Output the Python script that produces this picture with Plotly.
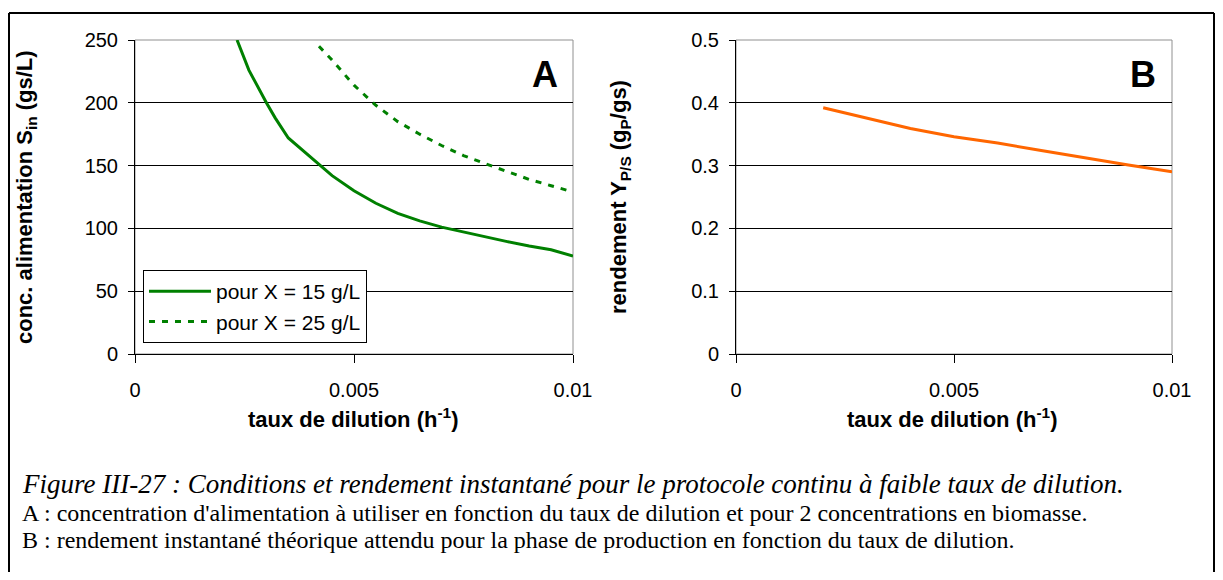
import plotly.graph_objects as go

# panel A : feed concentration vs dilution rate
d_x15 = [0.00233, 0.0026, 0.0030, 0.0032, 0.0035, 0.0040, 0.0045, 0.0050, 0.0055,
         0.0060, 0.0065, 0.0070, 0.0075, 0.0080, 0.0085, 0.0090, 0.0095, 0.0100]
s_x15 = [250, 226, 200, 188, 172, 157, 142, 130, 120, 112, 106, 101, 97, 93, 89.5, 86, 83, 78]

d_x25 = [0.0042, 0.0045, 0.0050, 0.0055, 0.0060, 0.0065, 0.0070, 0.0075, 0.0080,
         0.0085, 0.0090, 0.0095, 0.0100]
s_x25 = [245, 234, 214, 198, 185, 175, 166, 158, 151.5, 145, 139, 134, 129]

# panel B : yield vs dilution rate
d_yield = [0.0020, 0.0030, 0.0040, 0.0050, 0.0060, 0.0070, 0.0080, 0.0090, 0.0100]
y_yield = [0.392, 0.376, 0.359, 0.346, 0.336, 0.324, 0.312, 0.301, 0.290]

x_ticks = [0, 0.005, 0.01]
x_ticktext = ["0", "0.005", "0.01"]

# page has an 8px body margin, keep the figure inside the window
W, H = 1207, 564
OFF = 8
GREEN = "#008000"
ORANGE = "#FF6600"
SANS = "Liberation Sans, Arial"
AX_FONT = dict(family=SANS, size=20, color="black")
TITLE_FONT = dict(family=SANS, size=22, color="black")

def px(x):
    return (x - OFF) / W

def py(y):
    return 1 - (y - OFF) / H

fig = go.Figure()
fig.add_trace(go.Scatter(x=d_x15, y=s_x15, mode="lines", name="pour X = 15 g/L",
                         line=dict(color=GREEN, width=3), xaxis="x", yaxis="y"))
fig.add_trace(go.Scatter(x=d_x25, y=s_x25, mode="lines", name="pour X = 25 g/L",
                         line=dict(color=GREEN, width=3, dash="6px,7px"), xaxis="x", yaxis="y"))
fig.add_trace(go.Scatter(x=d_yield, y=y_yield, mode="lines", showlegend=False,
                         line=dict(color=ORANGE, width=3), xaxis="x2", yaxis="y2"))

xcommon = dict(range=[0, 0.01], tickvals=x_ticks, ticktext=x_ticktext, showgrid=False,
               showline=True, linecolor="black", linewidth=1, ticks="outside", ticklen=8,
               tickcolor="black", tickfont=AX_FONT, ticklabelstandoff=10, zeroline=False,
               automargin=False)
ycommon = dict(showgrid=True, gridcolor="black", gridwidth=1, showline=True, linecolor="black",
               linewidth=1, ticks="outside", ticklen=6, tickcolor="black", tickfont=AX_FONT,
               ticklabelstandoff=6, zeroline=False, automargin=False)

dom_y = [py(354), py(40)]
fig.update_layout(
    width=W, height=H, margin=dict(l=0, r=0, t=0, b=0),
    template="none", paper_bgcolor="white", plot_bgcolor="white",
    xaxis=dict(domain=[px(135), px(573)], anchor="y", **xcommon),
    yaxis=dict(domain=dom_y, anchor="x", range=[0, 250], tickvals=[0, 50, 100, 150, 200, 250], **ycommon),
    xaxis2=dict(domain=[px(736), px(1172)], anchor="y2", **xcommon),
    yaxis2=dict(domain=dom_y, anchor="x2", range=[0, 0.5], tickvals=[0, 0.1, 0.2, 0.3, 0.4, 0.5],
                ticktext=["0", "0.1", "0.2", "0.3", "0.4", "0.5"], **ycommon),
    legend=dict(x=px(143), y=py(270), xanchor="left", yanchor="top", bgcolor="white",
                bordercolor="black", borderwidth=1,
                font=dict(family=SANS, size=21, color="black"),
                itemwidth=62),
    showlegend=True,
)

shapes = []
# grey plot-area frames (top and right edges)
for xr, yr in (("x", "y"), ("x2", "y2")):
    shapes.append(dict(type="rect", xref=xr + " domain", yref=yr + " domain", x0=0, x1=1, y0=0, y1=1,
                       line=dict(color="#909090", width=1), layer="below"))
# outer figure frame (left, top, right)
frame = dict(xref="paper", yref="paper", line=dict(color="black", width=2))
shapes.append(dict(type="line", x0=px(9), x1=px(1214), y0=py(13), y1=py(13), **frame))
shapes.append(dict(type="line", x0=px(9), x1=px(9), y0=py(13), y1=0, **frame))
shapes.append(dict(type="line", x0=px(1214), x1=px(1214), y0=py(13), y1=0, **frame))
fig.update_layout(shapes=shapes)

def label(text, x, y, font, angle=0, xanchor="center"):
    return dict(text=text, x=px(x), y=py(y), xref="paper", yref="paper", xanchor=xanchor,
                yanchor="middle", textangle=angle, showarrow=False, font=font)

ann = [
    label("<b>conc. alimentation S<sub>in</sub> (gs/L)</b>", 26, 197, TITLE_FONT, -90),
    label("<b>rendement Y<sub>P/S</sub> (g<sub>P</sub>/gs)</b>", 620, 197, TITLE_FONT, -90),
    label("<b>taux de dilution (h<sup>-1</sup>)</b>", 353, 418, TITLE_FONT),
    label("<b>taux de dilution (h<sup>-1</sup>)</b>", 952, 418, TITLE_FONT),
    label("<b>A</b>", 545, 75, dict(family=SANS, size=36, color="black")),
    label("<b>B</b>", 1143, 75, dict(family=SANS, size=36, color="black")),
]

caption = [
    "<i>Figure III-27 : Conditions et rendement instantané pour le protocole continu à faible taux de dilution.</i>",
    "A : concentration d'alimentation à utiliser en fonction du taux de dilution et pour 2 concentrations en biomasse.",
    "B : rendement instantané théorique attendu pour la phase de production en fonction du taux de dilution.",
]
cap_size = [27, 24, 24]
for line, yy, fs in zip(caption, (484, 513, 540), cap_size):
    ann.append(label(line, 20, yy, dict(family="Liberation Serif, Times New Roman", size=fs, color="black"),
                     xanchor="left"))
fig.update_layout(annotations=ann)

fig.write_html("out.html")
